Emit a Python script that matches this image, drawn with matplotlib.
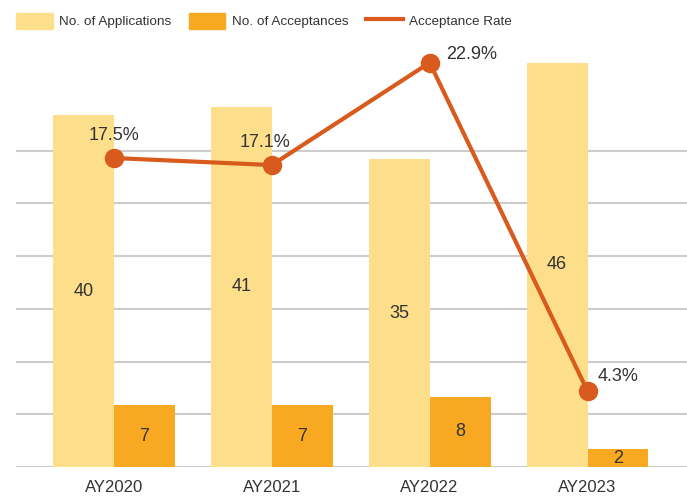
import numpy as np
import matplotlib.pyplot as plt
from matplotlib.patches import Patch
from matplotlib.lines import Line2D

plt.rcParams['font.family'] = ['Liberation Sans', 'DejaVu Sans']

# data
years = ['AY2020', 'AY2021', 'AY2022', 'AY2023']
applications = [40, 41, 35, 46]
acceptances = [7, 7, 8, 2]
rate = [17.5, 17.1, 22.9, 4.3]

c_app = '#FDDF8B'
c_acc = '#F9A822'
c_rate = '#D85A1C'
c_text = '#333333'

fig = plt.figure(figsize=(6.87, 5.0), dpi=100)
ax = fig.add_axes([16 / 687, 33 / 500, 671 / 687, 422 / 500])
ax2 = ax.twinx()

x = np.arange(len(years))
w = 0.386

b1 = ax.bar(x - w / 2, applications, w, color=c_app, zorder=2)
b2 = ax.bar(x + w / 2, acceptances, w, color=c_acc, zorder=2)
ax.bar_label(b1, label_type='center', fontsize=13, color=c_text)
ax.bar_label(b2, label_type='center', fontsize=13, color=c_text)

ax.set_xlim(-0.62, 3.63)
ax.set_ylim(0, 48)
ax.set_yticks(np.arange(0, 37, 6))
ax.yaxis.grid(True, color='#cccccc', linewidth=1.5, zorder=0)
ax.set_axisbelow(True)
ax.tick_params(axis='y', left=False, labelleft=False)
ax.tick_params(axis='x', bottom=False, labelsize=12, labelcolor=c_text, pad=6)
ax.set_xticks(x)
ax.set_xticklabels(years)
for s in ax.spines.values():
    s.set_visible(False)

ax2.plot(x, rate, color=c_rate, linewidth=3, marker='o', markersize=13, zorder=3)
ax2.set_ylim(0, 23.9)
ax2.set_yticks([])
for s in ax2.spines.values():
    s.set_visible(False)

# rate labels
offsets = [(0, 23, 'center'), (-7, 23, 'center'), (16, 8, 'left'), (10, 15, 'left')]
for xi, r, (dx, dy, ha) in zip(x, rate, offsets):
    ax2.annotate(f'{r}%', (xi, r), xytext=(dx, dy), textcoords='offset pixels',
                 ha=ha, va='center', fontsize=13, color=c_text)

handles = [Patch(color=c_app), Patch(color=c_acc),
           Line2D([0], [0], color=c_rate, linewidth=3)]
labels = ['No. of Applications', 'No. of Acceptances', 'Acceptance Rate']
fig.legend(handles, labels, loc='center left', bbox_to_anchor=(0.006, 0.958),
           ncol=3, frameon=False, fontsize=9.7, handlelength=2.7,
           handleheight=1.35, columnspacing=1.3, handletextpad=0.5,
           labelcolor=c_text)

fig.savefig('out.png', dpi=100)
